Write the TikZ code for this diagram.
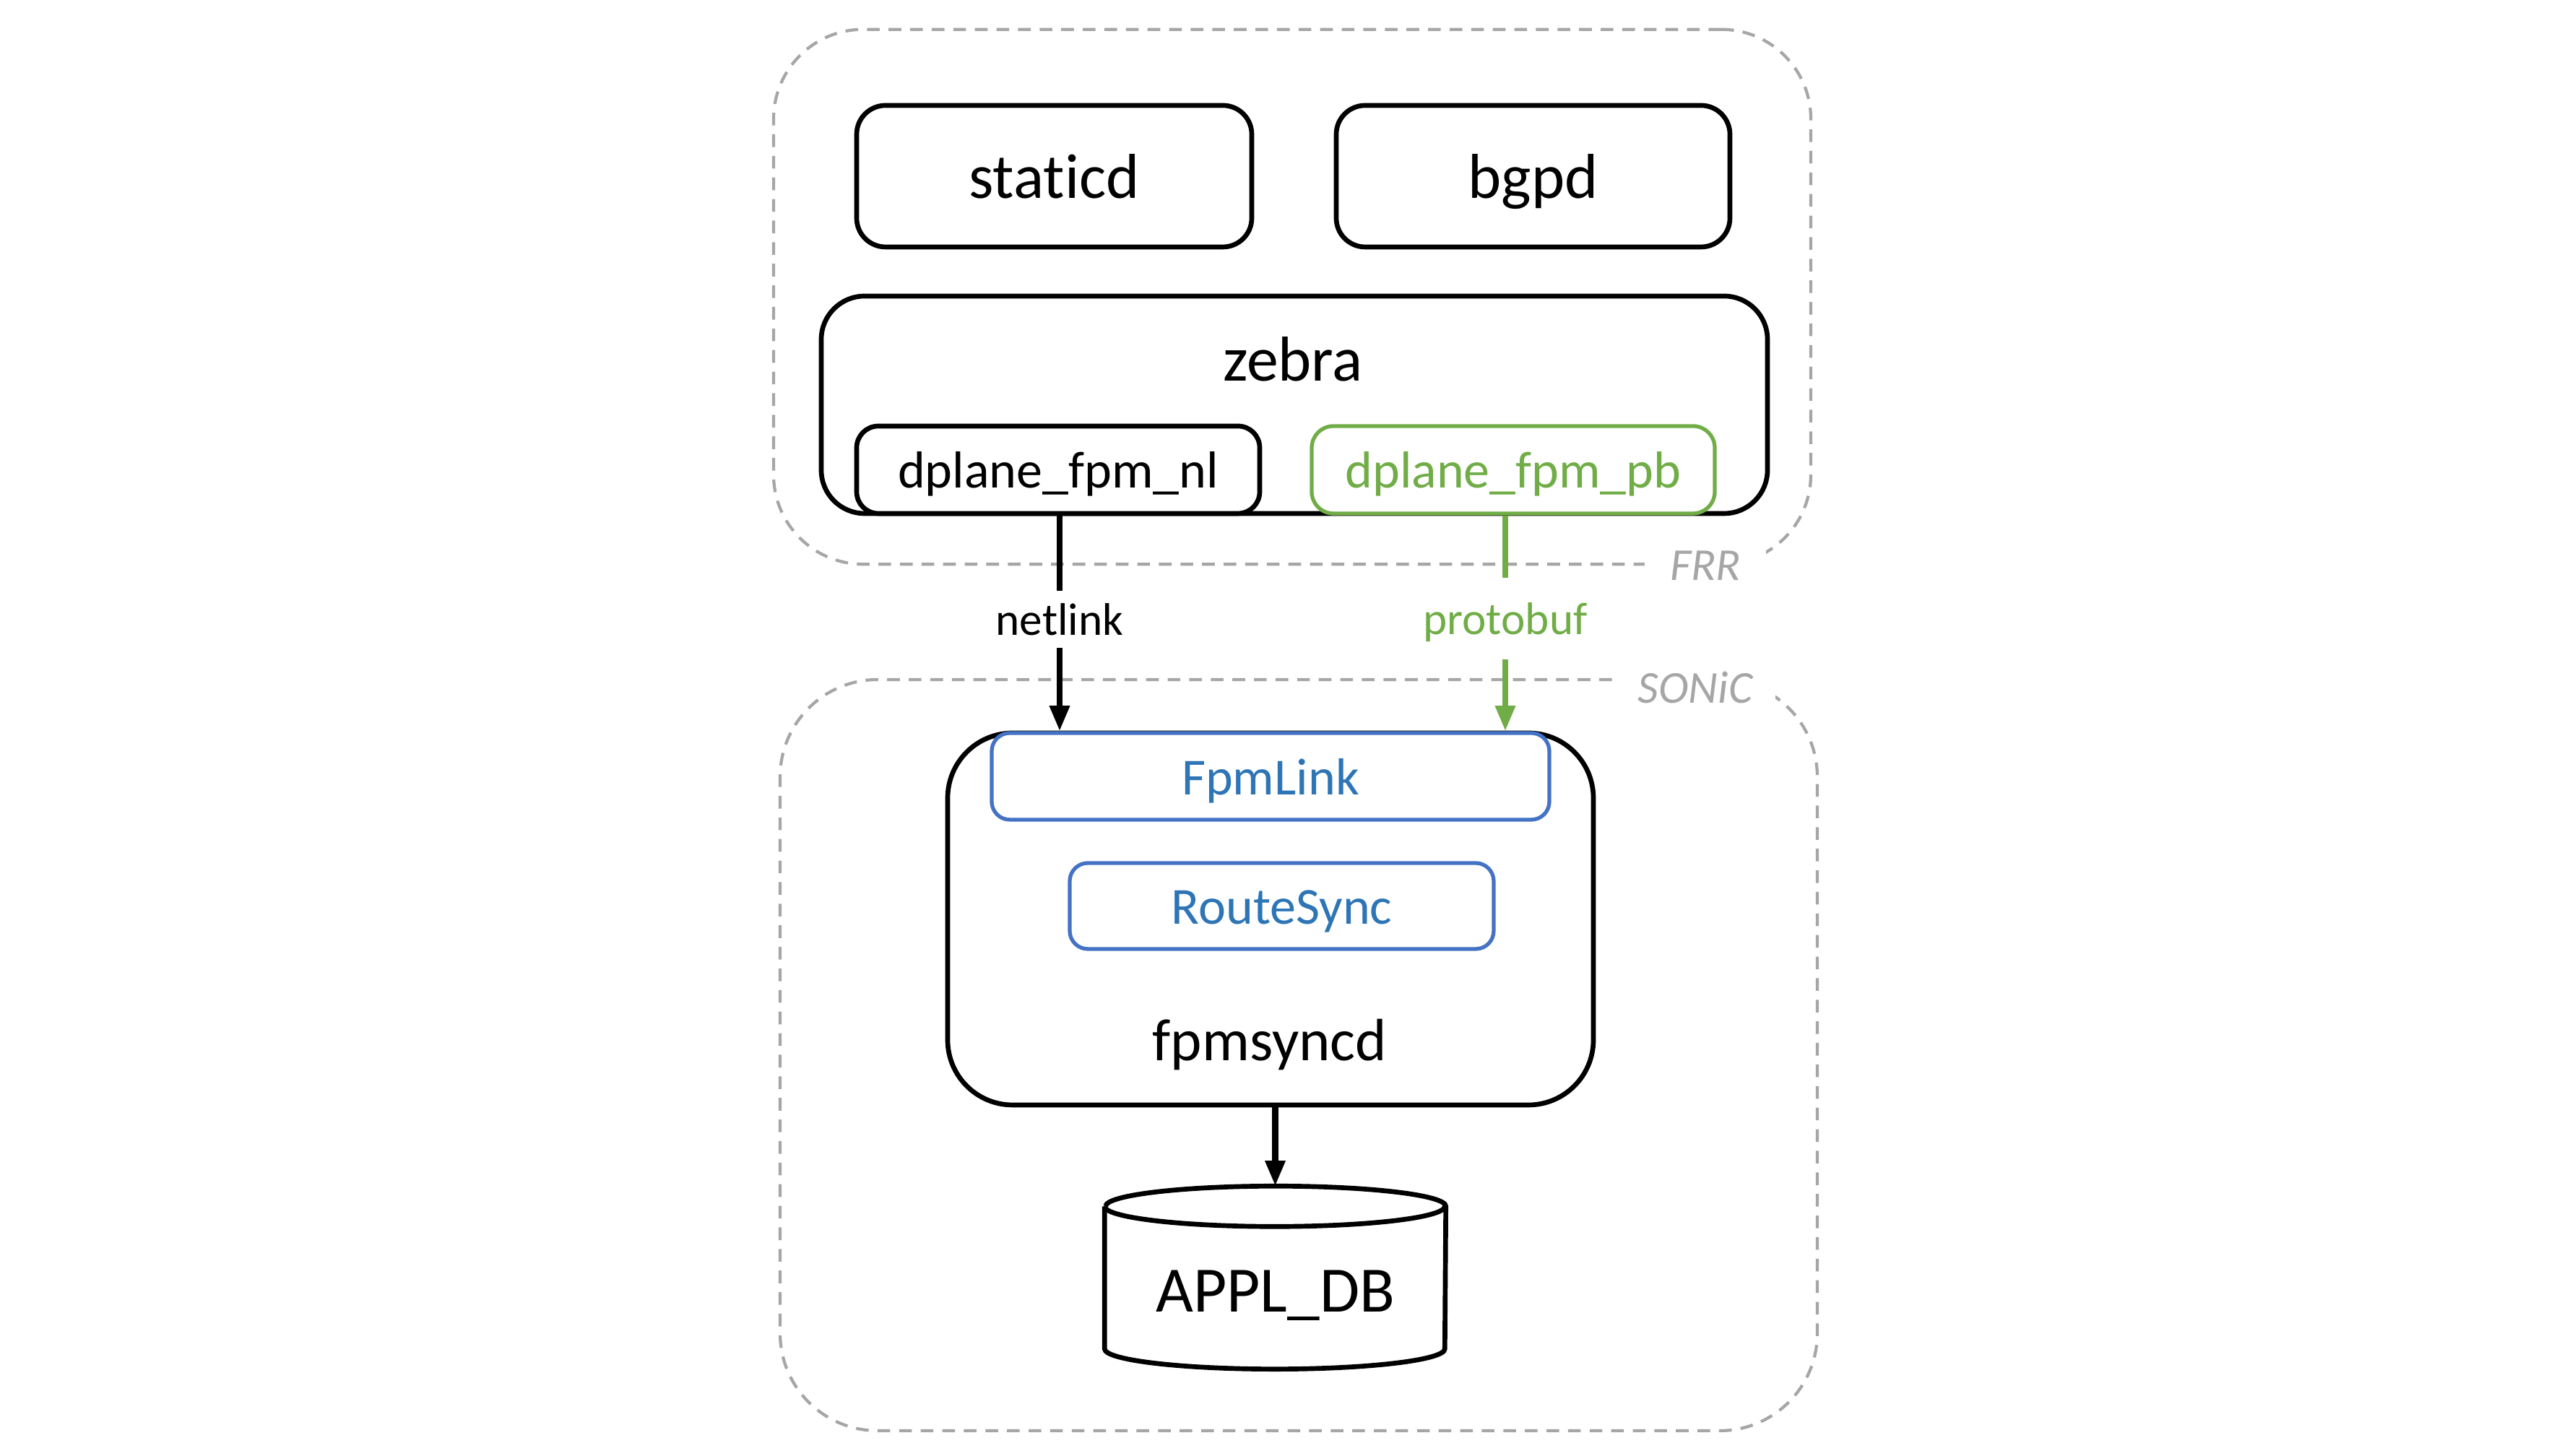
\documentclass[tikz,border=0pt]{standalone}
\usepackage{fontspec}
\setmainfont{Carlito}[Ligatures=NoCommon]
\usetikzlibrary{arrows.meta,calc}
\definecolor{frrgreen}{HTML}{70AD47}
\definecolor{boxblue}{HTML}{4472C4}
\definecolor{textblue}{HTML}{2E75B6}
\definecolor{dashgray}{HTML}{A6A6A6}
\begin{document}
\begin{tikzpicture}[
  blackbox/.style={draw=black, line width=1.9pt, rounded corners=#1, inner sep=0pt, fill=white},
  greenbox/.style={draw=frrgreen, line width=1.5pt, rounded corners=0.3cm, inner sep=0pt, fill=white, text=frrgreen},
  bluebox/.style={draw=boxblue, line width=1.5pt, rounded corners=0.25cm, inner sep=0pt, fill=white, text=textblue},
  groupbox/.style={draw=dashgray, line width=1.2pt, dash pattern=on 5pt off 3.5pt, rounded corners=#1, inner sep=0pt},
  grouplabel/.style={fill=white, text=dashgray, font=\fontsize{18}{22}\selectfont\itshape, inner xsep=10pt, inner ysep=4pt},
  big/.style={font=\fontsize{25}{30}\selectfont, text height=17.5pt, text depth=0pt},
  mid/.style={font=\fontsize{20.5}{24}\selectfont, text height=14.3pt, text depth=0pt},
  small/.style={font=\fontsize{18}{22}\selectfont, text height=12.6pt, text depth=0pt},
  conn/.style={line width=2.3pt},
  arr/.style={line width=2.3pt, -{Triangle[length=10pt, width=7.5pt]}},
]
\useasboundingbox (0,0) rectangle (35.29,20.16);

% group boxes
\node[groupbox=1.24cm, minimum width=14.36cm, minimum height=7.405cm] (frr) at (17.89,16.05) {};
\node[groupbox=1.35cm, minimum width=14.36cm, minimum height=10.40cm] (sonic) at (17.98,5.55) {};
\node[grouplabel] (frrlab) at (23.61,12.33) {FRR};
\node[grouplabel, inner xsep=9pt, inner ysep=2pt] (soniclab) at (23.47,10.64) {SONiC};

% FRR daemons
\node[blackbox=0.4cm, big, minimum width=5.47cm, minimum height=1.96cm] (staticd) at (14.595,17.72) {staticd};
\node[blackbox=0.4cm, big, minimum width=5.45cm, minimum height=1.96cm] (bgpd) at (21.225,17.72) {bgpd};
\node[blackbox=0.6cm, minimum width=13.10cm, minimum height=3.01cm] (zebra) at (17.92,14.555) {};
\node[big] (zebralab) at (17.90,15.19) {zebra};
\node[blackbox=0.3cm, mid, minimum width=5.58cm, minimum height=1.21cm] (nl) at (14.65,13.655) {dplane\_fpm\_nl};
\node[greenbox, mid, minimum width=5.58cm, minimum height=1.21cm] (pb) at (20.95,13.655) {dplane\_fpm\_pb};

% SONiC
\node[blackbox=0.9cm, minimum width=8.94cm, minimum height=5.15cm] (fpmsyncd) at (17.59,7.435) {};
\node[font=\fontsize{23.5}{28}\selectfont, text height=16.5pt, text depth=0pt] (fpmsyncdlab) at (17.58,5.76) {fpmsyncd};
\node[bluebox, mid, minimum width=7.72cm, minimum height=1.20cm] (fpmlink) at (17.59,9.41) {FpmLink};
\node[bluebox, mid, minimum width=5.87cm, minimum height=1.19cm] (routesync) at (17.745,7.615) {RouteSync};

% APPL_DB cylinder
\node[minimum width=4.71cm, minimum height=2.52cm, inner sep=0pt] (db) at (17.655,2.47) {};
\draw[line width=1.9pt, fill=white] ([yshift=-0.28cm]db.north west) -- ([yshift=0.28cm]db.south west)
  arc[start angle=180, end angle=360, x radius=2.355cm, y radius=0.28cm] -- ([yshift=-0.28cm]db.north east)
  arc[start angle=0, end angle=180, x radius=2.355cm, y radius=0.28cm];
\draw[line width=1.9pt] ([yshift=-0.28cm]db.north west) arc[start angle=180, end angle=360, x radius=2.355cm, y radius=0.28cm];
\node[font=\fontsize{25.5}{30}\selectfont, text height=17.8pt, text depth=0pt] (dblab) at (17.655,2.31) {APPL\_DB};

% connectors
\node[small, minimum height=0.77cm, inner sep=0pt] (nllab) at (14.67,11.585) {netlink};
\node[small, text=frrgreen, minimum height=1.11cm, inner sep=0pt] (pblab) at (20.84,11.595) {protobuf};
\draw[conn] (nllab |- nl.south) -- (nllab.north);
\draw[arr] (nllab.south) -- (nllab |- fpmlink.north);
\draw[conn, draw=frrgreen] (pblab |- pb.south) -- (pblab.north);
\draw[arr, draw=frrgreen, color=frrgreen] (pblab.south) -- (pblab |- fpmlink.north);
\draw[arr] (fpmsyncd.south -| db.north) -- (db.north);
\end{tikzpicture}
\end{document}
